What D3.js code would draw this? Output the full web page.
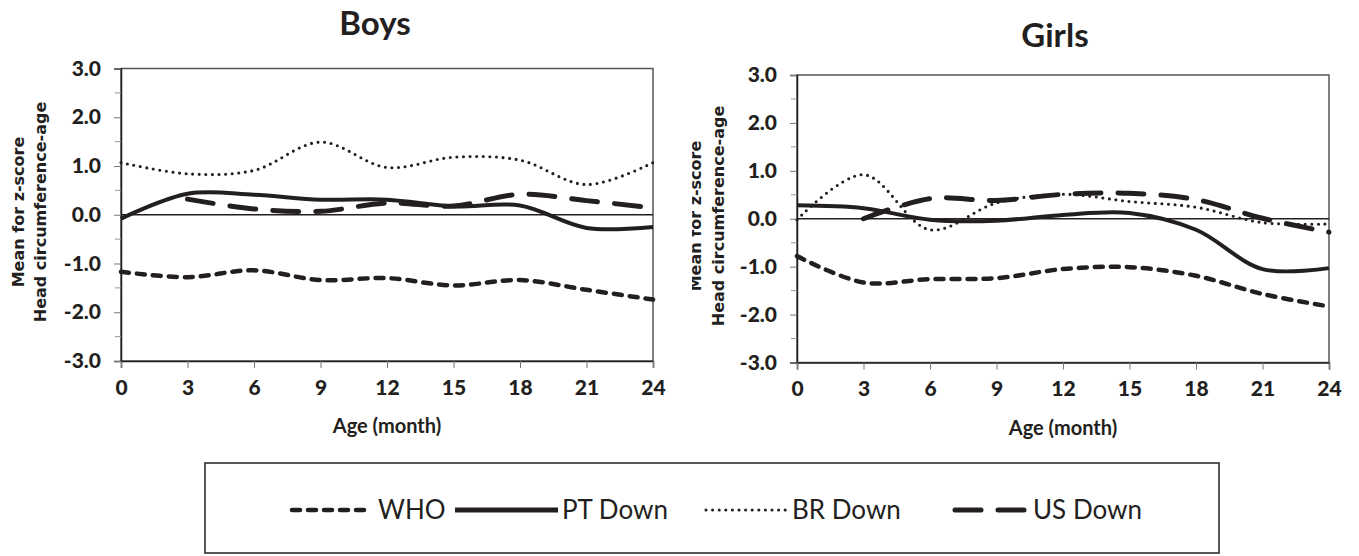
<!DOCTYPE html>
<html>
<head>
<meta charset="utf-8">
<script src="https://cdn.jsdelivr.net/npm/d3@7"></script>
<style>
  body { margin: 0; background: #fff; }
  svg { display: block; }
  text { fill: #231f20; }
</style>
</head>
<body>
<div id="chart"></div>
<script>
// months on the x axis
const months = [0, 3, 6, 9, 12, 15, 18, 21, 24];
const yTicks = [-3, -2, -1, 0, 1, 2, 3];

// Boys, mean z-score head circumference-for-age
const boysWHO = [-1.17, -1.28, -1.14, -1.34, -1.30, -1.45, -1.34, -1.54, -1.74];
const boysPT  = [-0.08, 0.43, 0.41, 0.31, 0.31, 0.17, 0.19, -0.27, -0.25];
const boysBR  = [1.07, 0.84, 0.91, 1.49, 0.97, 1.18, 1.12, 0.62, 1.07];
const boysUS  = [null, 0.32, 0.12, 0.07, 0.24, 0.18, 0.42, 0.29, 0.14];

// Girls
const girlsWHO = [-0.78, -1.33, -1.26, -1.24, -1.05, -1.01, -1.19, -1.57, -1.83];
const girlsPT  = [0.28, 0.22, -0.02, -0.04, 0.08, 0.12, -0.23, -1.05, -1.03];
const girlsBR  = [-0.02, 0.92, -0.23, 0.33, 0.51, 0.36, 0.24, -0.08, -0.11];
const girlsUS  = [null, 0.0, 0.42, 0.38, 0.51, 0.53, 0.40, 0.01, -0.28];

const seriesNames = ["WHO", "PT Down", "BR Down", "US Down"];

// line styles per series
const styles = {
    "WHO":     { width: 4.5, dash: "8,8",   cap: "round" },
    "PT Down": { width: 4,   dash: null,    cap: "butt" },
    "BR Down": { width: 3.1, dash: "0,6.6", cap: "round" },
    "US Down": { width: 5,   dash: "26,17", cap: "round" }
};

const svg = d3.select("#chart").append("svg")
    .attr("width", 1359)
    .attr("height", 556);

const panels = [
    { title: "Boys", data: [boysWHO, boysPT, boysBR, boysUS],
      left: 121, right: 653, top: 68.5, bottom: 361,
      titleX: 375, titleY: 35, labX: [24, 46], labY: 212, clipX: 0 },
    { title: "Girls", data: [girlsWHO, girlsPT, girlsBR, girlsUS],
      left: 797, right: 1329, top: 75, bottom: 362.5,
      titleX: 1055, titleY: 47, labX: [701, 724], labY: 216, clipX: 692 }
];

const fmt = d => d3.format(".1f")(d).replace("\u2212", "-");

panels.forEach(function(p, pi) {
    const clipId = "clip" + pi;
    svg.append("clipPath").attr("id", clipId)
        .append("rect")
        .attr("x", p.clipX).attr("y", 0)
        .attr("width", 1359 - p.clipX).attr("height", 556);

    const g = svg.append("g").attr("clip-path", "url(#" + clipId + ")");

    const x = d3.scaleLinear().domain([0, 24]).range([p.left, p.right]);
    const y = d3.scaleLinear().domain([-3, 3]).range([p.bottom, p.top]);

    // title
    g.append("text")
        .attr("x", p.titleX).attr("y", p.titleY)
        .attr("text-anchor", "middle")
        .style("font-family", "Lato, sans-serif")
        .style("font-weight", "bold")
        .style("font-size", "33px")
        .text(p.title);

    // frame
    g.append("rect")
        .attr("x", p.left).attr("y", p.top)
        .attr("width", p.right - p.left).attr("height", p.bottom - p.top)
        .attr("fill", "none")
        .attr("stroke", "#555")
        .attr("stroke-width", 1.5);

    // y axis
    const yAxis = d3.axisLeft(y)
        .tickValues(yTicks)
        .tickSize(7)
        .tickPadding(13)
        .tickFormat(fmt);
    const ya = g.append("g")
        .attr("transform", "translate(" + p.left + ",0)")
        .call(yAxis);
    ya.select(".domain").attr("stroke", "#231f20").attr("stroke-width", 1.5);
    ya.selectAll(".tick line").attr("stroke", "#777");
    ya.selectAll(".tick text")
        .style("font-family", "Lato, sans-serif")
        .style("font-weight", "900")
        .style("font-size", "21px")
        .attr("fill", "#231f20");

    // minor y ticks
    g.append("g").selectAll("line")
        .data(d3.range(-2.5, 3, 1))
        .enter().append("line")
        .attr("x1", p.left - 6).attr("x2", p.left)
        .attr("y1", d => y(d)).attr("y2", d => y(d))
        .attr("stroke", "#999");

    // x axis
    const xAxis = d3.axisBottom(x)
        .tickValues(months)
        .tickSize(7)
        .tickPadding(12);
    const xa = g.append("g")
        .attr("transform", "translate(0," + p.bottom + ")")
        .call(xAxis);
    xa.select(".domain").attr("stroke", "#231f20").attr("stroke-width", 1.5);
    xa.selectAll(".tick line").attr("stroke", "#777");
    xa.selectAll(".tick text")
        .style("font-family", "Lato, sans-serif")
        .style("font-weight", "900")
        .style("font-size", "21px")
        .attr("fill", "#231f20");

    // x label
    g.append("text")
        .attr("x", (p.left + p.right) / 2).attr("y", p.bottom + 72)
        .attr("text-anchor", "middle")
        .style("font-family", "Lato, sans-serif")
        .style("font-weight", "bold")
        .style("font-size", "20px")
        .text("Age (month)");

    // y label, two lines
    ["Mean for z-score", "Head circumference-age"].forEach(function(t, i) {
        g.append("text")
            .attr("transform", "translate(" + p.labX[i] + "," + p.labY + ") rotate(-90)")
            .attr("text-anchor", "middle")
            .style("font-family", "DejaVu Sans, sans-serif")
            .style("font-weight", "bold")
            .style("font-size", "16px")
            .text(t);
    });

    // zero line
    g.append("line")
        .attr("x1", x(0)).attr("x2", x(24))
        .attr("y1", y(0)).attr("y2", y(0))
        .attr("stroke", "#231f20")
        .attr("stroke-width", 1.5);

    const line = d3.line()
        .x(d => x(d[0]))
        .y(d => y(d[1]))
        .curve(d3.curveCatmullRom.alpha(0.5));

    p.data.forEach(function(vals, si) {
        const st = styles[seriesNames[si]];
        const pts = months.map((m, i) => [m, vals[i]]).filter(d => d[1] != null);
        g.append("path")
            .datum(pts)
            .attr("d", line)
            .attr("fill", "none")
            .attr("stroke", "#231f20")
            .attr("stroke-width", st.width)
            .attr("stroke-linecap", st.cap)
            .attr("stroke-dasharray", st.dash);
    });
});

// legend
const legend = svg.append("g");
legend.append("rect")
    .attr("x", 205).attr("y", 463)
    .attr("width", 1014).attr("height", 90)
    .attr("fill", "none")
    .attr("stroke", "#231f20")
    .attr("stroke-width", 1.5);

const legendX = [292, 455, 706, 955];
const legendW = [80, 103, 80, 76];
const legendTextX = [378, 562, 792, 1033];

seriesNames.forEach(function(name, i) {
    const st = styles[name];
    legend.append("line")
        .attr("x1", legendX[i]).attr("x2", legendX[i] + legendW[i])
        .attr("y1", 510).attr("y2", 510)
        .attr("stroke", "#231f20")
        .attr("stroke-width", st.width + (name === "PT Down" ? 1 : 0))
        .attr("stroke-linecap", st.cap)
        .attr("stroke-dasharray", st.dash);
    legend.append("text")
        .attr("x", legendTextX[i]).attr("y", 519)
        .style("font-family", "Lato, sans-serif")
        .style("font-size", "26px")
        .text(name);
});
</script>
</body>
</html>
